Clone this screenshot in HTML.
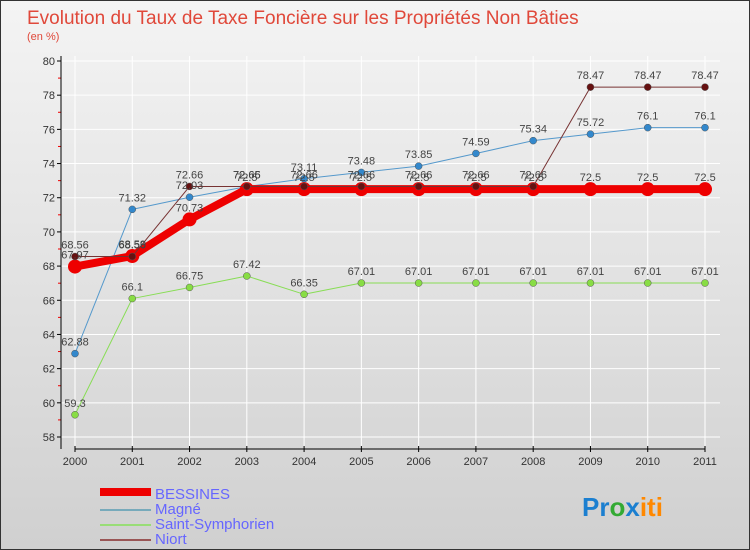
<!DOCTYPE html>
<html><head><meta charset="utf-8"><style>
body{margin:0;width:750px;height:550px;overflow:hidden;font-family:"Liberation Sans",sans-serif}
#wrap{position:absolute;left:0;top:0;width:748px;height:548px;border:1px solid #333;background:linear-gradient(#f4f4f4,#d0d0d0)}
</style></head><body>
<div id="wrap">
<svg id="chart" width="750" height="550" style="position:absolute;left:-1px;top:-1px">
<text x="27" y="24" font-size="19" fill="#e0483a">Evolution du Taux de Taxe Foncière sur les Propriétés Non Bâties</text>
<text x="27" y="40" font-size="11" fill="#e0483a">(en %)</text>
<g id="grid"></g><g id="axes"></g><g id="series"></g><g id="labels"></g>
<g>
<rect x="100" y="488" width="51" height="8" fill="#e00"/>
<text x="155" y="499" font-size="15" fill="#66f">BESSINES</text>
<rect x="100" y="509" width="51" height="2" fill="#7ab"/>
<text x="155" y="514" font-size="15" fill="#66f">Magné</text>
<rect x="100" y="524" width="51" height="2" fill="#9d7"/>
<text x="155" y="529" font-size="15" fill="#66f">Saint-Symphorien</text>
<rect x="100" y="539" width="51" height="2" fill="#955"/>
<text x="155" y="544" font-size="15" fill="#66f">Niort</text>
</g>
<text x="582" y="516" font-size="26" font-weight="bold"><tspan fill="#1b7fd0">Pr</tspan><tspan fill="#3a3">o</tspan><tspan fill="#1b7fd0">x</tspan><tspan fill="#f80">iti</tspan></text>
</svg></div>
<script>
const years=[2000,2001,2002,2003,2004,2005,2006,2007,2008,2009,2010,2011];
const yTicks=[58,60,62,64,66,68,70,72,74,76,78,80];
const bessines=[67.97,68.59,70.73,72.5,72.5,72.5,72.5,72.5,72.5,72.5,72.5,72.5];
const magne=[62.88,71.32,72.03,72.65,73.11,73.48,73.85,74.59,75.34,75.72,76.1,76.1];
const stsym=[59.3,66.1,66.75,67.42,66.35,67.01,67.01,67.01,67.01,67.01,67.01,67.01];
const niort=[68.56,68.56,72.66,72.66,72.66,72.66,72.66,72.66,72.66,78.47,78.47,78.47];
const NS="http://www.w3.org/2000/svg";
const X=i=>75+i*(705-75)/(years.length-1);
const Y=v=>61+(80-v)*(437-61)/22;
function mk(tag,attrs,parent){const e=document.createElementNS(NS,tag);for(const k in attrs)e.setAttribute(k,attrs[k]);document.getElementById(parent).appendChild(e);return e;}
years.forEach((yr,i)=>{
 const l=mk('line',{x1:X(i),x2:X(i),y1:56,y2:449,stroke:'#fff','stroke-width':1},'grid');
 
 
 const t=mk('line',{x1:X(i),x2:X(i),y1:446,y2:452,stroke:'#000'},'axes');
 
 
 const tx=mk('text',{x:X(i),y:465,'font-size':11,'text-anchor':'middle',fill:'#333'},'axes');tx.textContent=yr;
 
 
});
yTicks.forEach(v=>{
 const g=mk('line',{x1:61,x2:720,y1:Y(v),y2:Y(v),stroke:'#fff'},'grid');
 
 
 const t=mk('line',{x1:57,x2:61,y1:Y(v),y2:Y(v),stroke:'#000'},'axes');
 
 
 if(v<80){
 const m=mk('line',{x1:58,x2:61,y1:Y(v+1),y2:Y(v+1),stroke:'#e00'},'axes');
 
 
 }
 const tx=mk('text',{x:55,y:Y(v)+4,'font-size':11,'text-anchor':'end',fill:'#333'},'axes');tx.textContent=v;
 
 
});
const ya=mk('line',{x1:61,x2:61,y1:56,y2:449,stroke:'#000'},'axes');


const xa=mk('line',{x1:75,x2:705,y1:449,y2:449,stroke:'#000'},'axes');


function series(vals,name,color,w,r,dot){
 const p=mk('polyline',{points:vals.map((v,i)=>X(i)+','+Y(v)).join(' '),fill:'none',stroke:color,'stroke-width':w,'stroke-linejoin':'round'},'series');
 
 
 vals.forEach((v,i)=>{
  const c=mk('circle',{cx:X(i),cy:Y(v),r:r,fill:dot,stroke:'#555','stroke-width':r>5?0:0.5},'series');
  
  
  const t=mk('text',{x:X(i),y:Y(v)-8,'font-size':11,'text-anchor':'middle',fill:'#444'},'labels');t.textContent=v;
  
  
 });
}
series(stsym,'saint-symphorien','#8d5',1,3.5,'#8d4');
series(magne,'magne','#59c',1,3.5,'#38c');
series(bessines,'bessines','#e00',8,7,'#e00');
series(niort,'niort','#733',1,3.5,'#611');
</script>
</body></html>
